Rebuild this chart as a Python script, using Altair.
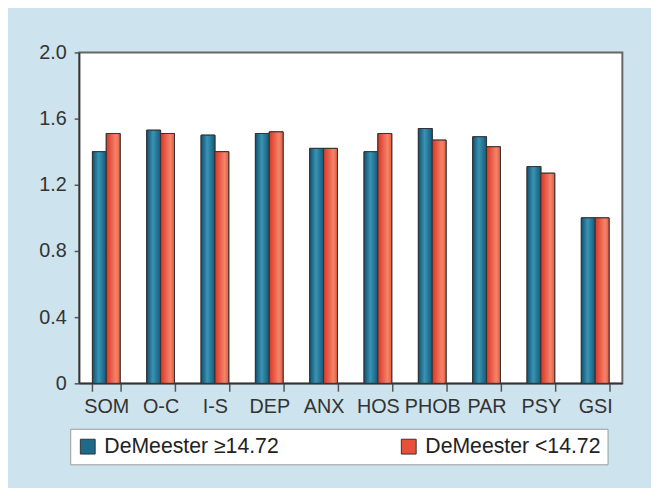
import altair as alt
import pandas as pd

categories = ["SOM", "O-C", "I-S", "DEP", "ANX", "HOS", "PHOB", "PAR", "PSY", "GSI"]
high_vals = [1.40, 1.53, 1.50, 1.51, 1.42, 1.40, 1.54, 1.49, 1.31, 1.00]
low_vals = [1.51, 1.51, 1.40, 1.52, 1.42, 1.51, 1.47, 1.43, 1.27, 1.00]
series = ["DeMeester \u226514.72", "DeMeester <14.72"]
colors = ["#1d6a8a", "#e8503a"]
y_ticks = [0, 0.4, 0.8, 1.2, 1.6, 2.0]

rows = []
for c, h, l in zip(categories, high_vals, low_vals):
    rows.append({"cat": c, "series": series[0], "value": h})
    rows.append({"cat": c, "series": series[1], "value": l})
df = pd.DataFrame(rows)

FONT = "Liberation Sans Narrow, Liberation Sans, Arial"

blue_grad = {
    "gradient": "linear", "x1": 0, "x2": 1, "y1": 0, "y2": 0,
    "stops": [
        {"offset": 0, "color": "#0f5170"},
        {"offset": 0.45, "color": "#3a93b3"},
        {"offset": 1, "color": "#125a79"},
    ],
}
red_grad = {
    "gradient": "linear", "x1": 0, "x2": 1, "y1": 0, "y2": 0,
    "stops": [
        {"offset": 0, "color": "#d93528"},
        {"offset": 0.7, "color": "#f58468"},
        {"offset": 1, "color": "#e65a40"},
    ],
}

x_enc = alt.X(
    "cat:N", sort=categories,
    scale=alt.Scale(paddingInner=0.49, paddingOuter=0.245),
    axis=alt.Axis(title=None, labelAngle=0, tickBand="extent", tickSize=8,
                  labelPadding=6, labelFontSize=20, labelFont=FONT,
                  labelColor="#333", domainColor="#333", tickColor="#555",
                  domainWidth=1.5, tickWidth=1.5),
)
xo_enc = alt.XOffset("series:N", sort=series,
                     scale=alt.Scale(paddingInner=0, paddingOuter=0))
y_enc = alt.Y(
    "value:Q", scale=alt.Scale(domain=[0, 2.0]),
    axis=alt.Axis(title=None, values=y_ticks, tickSize=5, labelPadding=8,
                  labelFontSize=20, labelFont=FONT, labelColor="#333",
                  domainColor="#333", tickColor="#555", grid=False,
                  domainWidth=1.5, tickWidth=1.5,
                  labelExpr="datum.value == 0 ? '0' : format(datum.value, '.1f')"),
)

base = alt.Chart(df).mark_bar(stroke="#333", strokeWidth=1, opacity=1).encode(
    x=x_enc, xOffset=xo_enc, y=y_enc,
    color=alt.Color(
        "series:N", sort=series,
        scale=alt.Scale(domain=series, range=colors),
        legend=alt.Legend(
            title=None, orient="none", legendX=-9, legendY=381,
            direction="horizontal", fillColor="white", strokeColor="#999",
            padding=7, symbolType="square", symbolSize=225,
            symbolStrokeColor="#333", symbolStrokeWidth=1, symbolOpacity=1,
            labelFontSize=21.5, labelFont=FONT, labelColor="#222",
            labelLimit=400, columnPadding=120, labelOffset=6,
        ),
    ),
)

blue_layer = alt.Chart(df).transform_filter(
    alt.datum.series == series[0]
).mark_bar(fill=blue_grad, stroke="#333", strokeWidth=1).encode(
    x=x_enc, xOffset=xo_enc, y=y_enc
)
red_layer = alt.Chart(df).transform_filter(
    alt.datum.series == series[1]
).mark_bar(fill=red_grad, stroke="#333", strokeWidth=1).encode(
    x=x_enc, xOffset=xo_enc, y=y_enc
)

chart = alt.layer(base, blue_layer, red_layer).properties(
    width=550, height=335,
    autosize="none",
    padding={"left": 72, "top": 42, "right": 29, "bottom": 103},
    background="#cde3ee",
).configure_view(
    fill="white", stroke="#666", strokeWidth=2,
)

chart.save("out.html", embed_options={"renderer": "svg", "actions": False})
